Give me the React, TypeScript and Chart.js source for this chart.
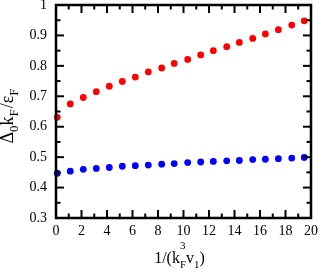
import React, { useEffect, useRef } from 'react';
import { Chart, registerables } from 'chart.js';

Chart.register(...registerables);

// ---- data ----
const X_VALUES = [0.1, 1.12, 2.14, 3.16, 4.18, 5.2, 6.22, 7.24, 8.29, 9.27, 10.33, 11.35, 12.34, 13.39, 14.38, 15.43, 16.42, 17.44, 18.49, 19.47];
const RED_VALUES = [0.631, 0.675, 0.696, 0.715, 0.733, 0.749, 0.763, 0.78, 0.793, 0.808, 0.821, 0.836, 0.85, 0.863, 0.877, 0.89, 0.905, 0.919, 0.934, 0.948];
const BLUE_VALUES = [0.447, 0.454, 0.46, 0.463, 0.466, 0.47, 0.472, 0.474, 0.477, 0.479, 0.482, 0.484, 0.486, 0.488, 0.489, 0.492, 0.493, 0.495, 0.497, 0.499];

const X_TICKS = [0, 2, 4, 6, 8, 10, 12, 14, 16, 18, 20];
const X_MINOR = [1, 3, 5, 7, 9, 11, 13, 15, 17, 19];
const Y_TICKS = [0.3, 0.4, 0.5, 0.6, 0.7, 0.8, 0.9, 1];
const Y_MINOR = [0.35, 0.45, 0.55, 0.65, 0.75, 0.85, 0.95];

const X_TITLE = [
  { text: '1/(k', size: 16, dy: 0 },
  { text: '3', size: 11, dy: -14 },
  { text: 'F', size: 11, dy: 5, stack: true },
  { text: 'v', size: 16, dy: 0 },
  { text: '1', size: 11, dy: 5 },
  { text: ')', size: 16, dy: 0 },
];
const Y_TITLE = [
  { text: 'Δ', size: 18, dy: 0 },
  { text: '0', size: 13, dy: 5 },
  { text: 'k', size: 18, dy: 0 },
  { text: 'F', size: 13, dy: 5, gap: 1 },
  { text: '/', size: 18, dy: 0 },
  { text: 'ε', size: 18, dy: 0 },
  { text: 'F', size: 13, dy: 5 },
];

const FONT = '"Liberation Serif", "Times New Roman", serif';

type Part = { text: string; size: number; dy: number; stack?: boolean; gap?: number };

function drawRich(ctx: CanvasRenderingContext2D, parts: Part[], cx: number, baseline: number, rotate: boolean) {
  let x = 0;
  let prevStart = 0;
  let prevW = 0;
  const placed: (Part & { x: number })[] = [];
  for (const p of parts) {
    ctx.font = `${p.size}px ${FONT}`;
    const w = ctx.measureText(p.text).width + (p.gap || 0);
    if (p.stack) {
      placed.push({ ...p, x: prevStart });
      const end = Math.max(prevStart + prevW, prevStart + w);
      prevW = end - prevStart;
      x = end;
    } else {
      placed.push({ ...p, x });
      prevStart = x;
      prevW = w;
      x += w;
    }
  }
  const total = x;
  ctx.save();
  if (rotate) {
    ctx.translate(baseline, cx);
    ctx.rotate(-Math.PI / 2);
  } else {
    ctx.translate(cx, baseline);
  }
  ctx.fillStyle = '#000';
  ctx.textAlign = 'left';
  ctx.textBaseline = 'alphabetic';
  for (const p of placed) {
    ctx.font = `${p.size}px ${FONT}`;
    ctx.fillText(p.text, p.x - total / 2, p.dy);
  }
  ctx.restore();
}

const framePlugin = {
  id: 'frameTicks',
  afterDatasetsDraw(chart: any) {
    const { ctx, chartArea } = chart;
    const { left, right, top, bottom } = chartArea;
    const xs = chart.scales.x;
    const ys = chart.scales.y;
    ctx.save();
    ctx.strokeStyle = '#000';
    ctx.lineWidth = 2;
    const tick = (x1: number, y1: number, x2: number, y2: number) => {
      ctx.beginPath();
      ctx.moveTo(x1, y1);
      ctx.lineTo(x2, y2);
      ctx.stroke();
    };
    const MAJ = 8;
    const MIN = 4.5;
    for (const v of X_TICKS) {
      const p = xs.getPixelForValue(v);
      tick(p, bottom, p, bottom - MAJ);
      tick(p, top, p, top + MAJ);
    }
    for (const v of X_MINOR) {
      const p = xs.getPixelForValue(v);
      tick(p, bottom, p, bottom - MIN);
      tick(p, top, p, top + MIN);
    }
    for (const v of Y_TICKS) {
      const p = ys.getPixelForValue(v);
      tick(left, p, left + MAJ, p);
      tick(right, p, right - MAJ, p);
    }
    for (const v of Y_MINOR) {
      const p = ys.getPixelForValue(v);
      tick(left, p, left + MIN, p);
      tick(right, p, right - MIN, p);
    }
    ctx.lineWidth = 2.5;
    ctx.strokeRect(left, top, right - left, bottom - top);
    ctx.restore();
  },
  afterDraw(chart: any) {
    const { ctx } = chart;
    drawRich(ctx, X_TITLE, 179.5, 263, false);
    drawRich(ctx, Y_TITLE, 116, 13, true);
  },
};

export default function App() {
  const ref = useRef<HTMLCanvasElement | null>(null);
  useEffect(() => {
    if (!ref.current) return;
    const chart = new Chart(ref.current, {
      type: 'scatter',
      data: {
        datasets: [
          {
            data: X_VALUES.map((x, i) => ({ x, y: RED_VALUES[i] })),
            backgroundColor: '#ff0000',
            borderColor: '#ff0000',
            pointRadius: 3.4,
            borderWidth: 0,
            clip: false,
          },
          {
            data: X_VALUES.map((x, i) => ({ x, y: BLUE_VALUES[i] })),
            backgroundColor: '#0000ff',
            borderColor: '#0000ff',
            pointRadius: 3.4,
            borderWidth: 0,
            clip: false,
          },
        ],
      },
      options: {
        animation: false,
        responsive: false,
        events: [],
        layout: { padding: { top: 5, right: 9, left: 0, bottom: 0 } },
        plugins: { legend: { display: false }, tooltip: { enabled: false } },
        scales: {
          x: {
            type: 'linear',
            min: 0,
            max: 20,
            grid: { display: false, drawTicks: false, tickLength: 0 },
            border: { display: false },
            afterBuildTicks: (s: any) => {
              s.ticks = X_TICKS.map((v) => ({ value: v }));
            },
            afterFit: (s: any) => {
              s.height = 57;
              s.paddingLeft = 0;
              s.paddingRight = 0;
            },
            ticks: {
              color: '#000',
              padding: 5,
              maxRotation: 0,
              autoSkip: false,
              font: { family: FONT, size: 14 },
              callback: (v: any) => String(v),
            },
          },
          y: {
            type: 'linear',
            min: 0.3,
            max: 1,
            grid: { display: false, drawTicks: false, tickLength: 0 },
            border: { display: false },
            afterBuildTicks: (s: any) => {
              s.ticks = Y_TICKS.map((v) => ({ value: v }));
            },
            afterFit: (s: any) => {
              s.width = 56;
              s.paddingTop = 0;
              s.paddingBottom = 0;
            },
            ticks: {
              color: '#000',
              padding: 9,
              autoSkip: false,
              font: { family: FONT, size: 14 },
              callback: (v: any) => String(Number(Number(v).toFixed(2))),
            },
          },
        },
      },
      plugins: [framePlugin],
    });
    return () => chart.destroy();
  }, []);
  return (
    <canvas
      ref={ref}
      width={320}
      height={275}
      style={{ position: 'fixed', left: 0, top: 0, width: 320, height: 275, background: '#fff' }}
    />
  );
}
